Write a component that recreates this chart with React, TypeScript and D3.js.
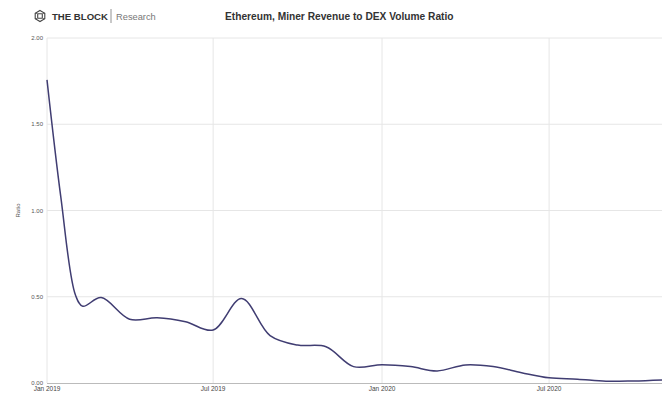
import React from "react";
import * as d3 from "d3";

const dates: string[] = [
  "2019-01-01","2019-01-16","2019-02-01","2019-02-09","2019-03-01","2019-04-01","2019-05-01","2019-06-01",
  "2019-07-01","2019-08-01","2019-09-01","2019-10-01","2019-11-01","2019-12-01",
  "2020-01-01","2020-02-01","2020-03-01","2020-04-01","2020-05-01","2020-06-01",
  "2020-07-01","2020-08-01","2020-09-01","2020-10-01","2020-11-01",
];
const ratio: number[] = [
  1.757, 1.08, 0.51, 0.445, 0.495, 0.37, 0.378, 0.355,
  0.307, 0.49, 0.275, 0.22, 0.21, 0.095,
  0.106, 0.095, 0.07, 0.105, 0.095, 0.06,
  0.03, 0.022, 0.01, 0.012, 0.018,
];
const yTicks: number[] = [0, 0.5, 1, 1.5, 2];
const xTickDates: string[] = ["2019-01-01", "2019-07-01", "2020-01-01", "2020-07-01"];
const xTickLabels: string[] = ["Jan 2019", "Jul 2019", "Jan 2020", "Jul 2020"];

const W = 668, H = 393;
const left = 47, right = 662, top = 38, bottom = 383;

export default function App() {
  const parse = d3.utcParse("%Y-%m-%d");
  const x = d3.scaleUtc()
    .domain([parse(dates[0])!, parse(dates[dates.length - 1])!])
    .range([left, right]);
  const y = d3.scaleLinear().domain([0, 2]).range([bottom, top]);
  const data = dates.map((m, i) => ({ d: parse(m)!, v: ratio[i] }));
  const line = d3.line<{ d: Date; v: number }>()
    .x(p => x(p.d))
    .y(p => y(p.v))
    .curve(d3.curveCatmullRom.alpha(0.5));
  const font = "'Liberation Sans', Arial, Helvetica, sans-serif";
  return (
    <svg width={W} height={H} style={{ position: "absolute", left: 0, top: 0 }} fontFamily={font}>
      <rect width={W} height={H} fill="#fff" />
      {/* logo */}
      <g transform="translate(40,16)" fill="none" stroke="#444" strokeWidth={1.1}>
        <path d="M0,-5.5 L4.8,-2.75 L4.8,2.75 L0,5.5 L-4.8,2.75 L-4.8,-2.75 Z" />
        <rect x={-2.3} y={-2.3} width={4.6} height={4.6} rx={0.8} />
        <path d="M-4.8,-2.75 L-2.3,-2.3 M4.8,-2.75 L2.3,-2.3 M-4.8,2.75 L-2.3,2.3 M4.8,2.75 L2.3,2.3" strokeWidth={0.7} />
      </g>
      <text x={52} y={20} fontSize={9.6} fontWeight="bold" fill="#333">THE BLOCK</text>
      <line x1={111} y1={9} x2={111} y2={23} stroke="#777" strokeWidth={0.8} />
      <text x={116} y={20} fontSize={9.3} fill="#777">Research</text>
      <text x={225} y={20} fontSize={10.2} fontWeight="bold" fill="#333">Ethereum, Miner Revenue to DEX Volume Ratio</text>
      {/* grid */}
      {yTicks.map(t => (
        <g key={"y" + t}>
          {t > 0 && <line x1={left} x2={right} y1={y(t)} y2={y(t)} stroke="#e6e6e6" strokeWidth={1} />}
          <text x={left - 4} y={y(t) + 2} fontSize={6} fill="#555" textAnchor="end">{t.toFixed(2)}</text>
        </g>
      ))}
      {xTickDates.map((s, i) => (
        <g key={s}>
          <line x1={x(parse(s)!)} x2={x(parse(s)!)} y1={top} y2={bottom} stroke="#e6e6e6" strokeWidth={1} />
          <text x={x(parse(s)!)} y={bottom + 8} fontSize={6.5} fill="#444" textAnchor="middle">{xTickLabels[i]}</text>
        </g>
      ))}
      <line x1={left} x2={right} y1={bottom + 0.5} y2={bottom + 0.5} stroke="#bbb" strokeWidth={1} />
      <text transform={`translate(20,${(top + bottom) / 2}) rotate(-90)`} fontSize={6} fill="#555" textAnchor="middle">Ratio</text>
      <path d={line(data) || ""} fill="none" stroke="#403d72" strokeWidth={1.5} />
    </svg>
  );
}
